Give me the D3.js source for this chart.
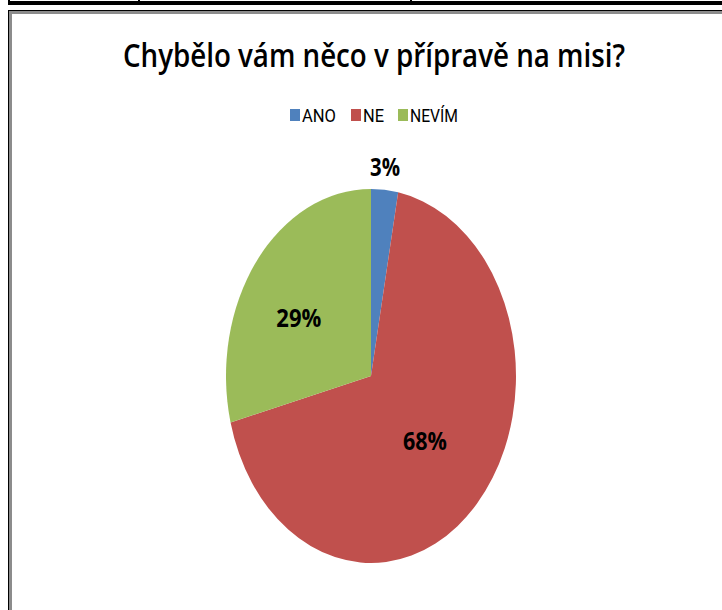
<!DOCTYPE html>
<html lang="cs">
<head>
<meta charset="utf-8">
<title>Chybělo vám něco v přípravě na misi?</title>
<script src="https://cdn.jsdelivr.net/npm/d3@7"></script>
<style>
  body { margin: 0; background: #fff; }
  svg { display: block; }
  .title { font-family: "Open Sans", sans-serif; font-weight: 600; fill: #000; }
  .legend text { font-family: Roboto, sans-serif; fill: #000; }
  .lbl { font-family: "Open Sans", sans-serif; font-weight: 700; fill: #000; }
</style>
</head>
<body>
<script>
// data
var categories = ["ANO", "NE", "NEVÍM"];
var values = [3, 68, 29];
var colors = ["#4f81bd", "#c0504d", "#9bbb59"];

var W = 722, H = 610;
var cx = 371, cy = 376, rx = 145, ry = 187;

var svg = d3.select("body").append("svg")
  .attr("width", W)
  .attr("height", H);

// table row remnant on top
svg.append("rect").attr("x", 8).attr("y", 1).attr("width", W - 8).attr("height", 4).attr("fill", "#000");
[8, 138, 410].forEach(function(x) {
  svg.append("rect").attr("x", x).attr("y", 0).attr("width", 2).attr("height", 5).attr("fill", "#000");
});

// chart frame (runs off right and bottom)
svg.append("rect").attr("x", 8.5).attr("y", 10.5).attr("width", W + 20).attr("height", H + 20)
  .attr("fill", "none").attr("stroke", "#000").attr("stroke-width", 1);
svg.append("rect").attr("x", 10.5).attr("y", 12.5).attr("width", W + 20).attr("height", H + 20)
  .attr("fill", "none").attr("stroke", "#8c8c8c").attr("stroke-width", 3);

// title
svg.append("text")
  .attr("class", "title")
  .attr("x", 123).attr("y", 67)
  .attr("font-size", 33)
  .attr("textLength", 502)
  .attr("lengthAdjust", "spacingAndGlyphs")
  .text("Chybělo vám něco v přípravě na misi?");

// legend
var legendX = [290, 351, 398];
var legendW = [34, 21, 48];
var legend = svg.append("g").attr("class", "legend");
categories.forEach(function(c, i) {
  legend.append("rect")
    .attr("x", legendX[i]).attr("y", 109)
    .attr("width", 10).attr("height", 12)
    .attr("fill", colors[i]);
  legend.append("text")
    .attr("x", legendX[i] + 12).attr("y", 122)
    .attr("font-size", 19)
    .attr("textLength", legendW[i])
    .attr("lengthAdjust", "spacingAndGlyphs")
    .text(c);
});

// pie, drawn on a circle of radius rx and stretched vertically
var pie = d3.pie().sort(null).value(function(d) { return d; });
var arcs = pie(values);
var arc = d3.arc().innerRadius(0).outerRadius(rx);

var g = svg.append("g")
  .attr("transform", "translate(" + cx + "," + cy + ") scale(1," + (ry / rx) + ")");
g.selectAll("path")
  .data(arcs).enter()
  .append("path")
  .attr("d", arc)
  .attr("fill", function(d, i) { return colors[i]; });

// data labels (radial factors along x and y)
var labelRx = [1.03, 0.51, 0.63];
var labelRy = [1.12, 0.51, 0.51];
var labelW = [30, 44, 45];
svg.selectAll(".lbl")
  .data(arcs).enter()
  .append("text")
  .attr("class", "lbl")
  .attr("font-size", 25)
  .attr("text-anchor", "middle")
  .attr("textLength", function(d, i) { return labelW[i]; })
  .attr("lengthAdjust", "spacingAndGlyphs")
  .attr("x", function(d, i) {
    var a = (d.startAngle + d.endAngle) / 2;
    return cx + Math.sin(a) * rx * labelRx[i];
  })
  .attr("y", function(d, i) {
    var a = (d.startAngle + d.endAngle) / 2;
    return cy - Math.cos(a) * ry * labelRy[i] + 9;
  })
  .text(function(d) { return d.value + "%"; });
</script>
</body>
</html>
